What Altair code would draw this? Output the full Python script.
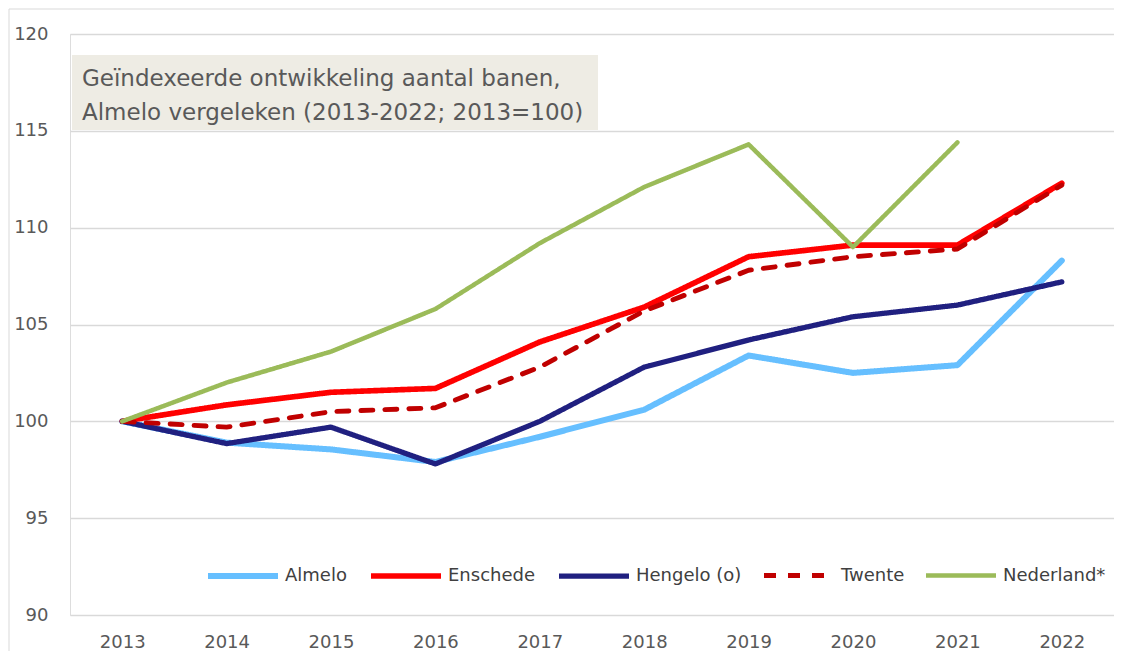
import altair as alt
import pandas as pd

years = [2013, 2014, 2015, 2016, 2017, 2018, 2019, 2020, 2021, 2022]
series_names = ["Almelo", "Enschede", "Hengelo (o)", "Twente", "Nederland*"]
almelo = [100, 98.9, 98.55, 97.9, 99.2, 100.6, 103.4, 102.5, 102.9, 108.3]
enschede = [100, 100.85, 101.5, 101.7, 104.1, 105.9, 108.5, 109.1, 109.1, 112.3]
hengelo = [100, 98.85, 99.7, 97.8, 100.0, 102.8, 104.2, 105.4, 106.0, 107.2]
twente = [100, 99.7, 100.5, 100.7, 102.8, 105.7, 107.8, 108.5, 108.9, 112.2]
nederland = [100, 102.0, 103.6, 105.8, 109.2, 112.1, 114.3, 109.0, 114.4, None]
colors = ["#66BFFF", "#FF0000", "#202080", "#C00000", "#9BBB59"]
widths = [6, 4.5, 4, 5, 4]
dashes = [[1, 0], [1, 0], [1, 0], [12, 12], [1, 0]]
title_lines = ["Geïndexeerde ontwikkeling aantal banen,",
               "Almelo vergeleken (2013-2022; 2013=100)"]

rows = []
for name, vals in zip(series_names, [almelo, enschede, hengelo, twente, nederland]):
    for y, v in zip(years, vals):
        if v is not None:
            rows.append({"jaar": str(y), "serie": name, "waarde": v})
df = pd.DataFrame(rows)

FONT = "DejaVu Sans"


def make_legend():
    return alt.Legend(title=None, orient="none", legendX=135, legendY=504,
                      direction="horizontal", columns=5,
                      symbolType="stroke", symbolSize=4900,
                      symbolStrokeWidth=6,
                      labelFont=FONT, labelFontSize=18,
                      labelColor="#404040", labelOffset=4,
                      columnPadding=12, padding=0, gridAlign="none")


x_enc = alt.X("jaar:O", title=None,
              scale=alt.Scale(type="point", padding=0.5),
              axis=alt.Axis(labelAngle=0, labelFont=FONT, labelFontSize=18,
                            labelColor="#595959", ticks=False, domain=False,
                            grid=False, labelPadding=18))
y_enc = alt.Y("waarde:Q", title=None,
              scale=alt.Scale(domain=[90, 120], nice=False, zero=False),
              axis=alt.Axis(values=[90, 95, 100, 105, 110, 115, 120],
                            labelFont=FONT, labelFontSize=18, labelColor="#595959",
                            ticks=False, domain=False, grid=True,
                            gridColor="#D9D9D9", gridWidth=1.3, labelPadding=22))

lines = alt.Chart(df).mark_line(strokeCap="round", strokeJoin="round").encode(
    x=x_enc,
    y=y_enc,
    color=alt.Color("serie:N", scale=alt.Scale(domain=series_names, range=colors),
                    legend=make_legend()),
    strokeDash=alt.StrokeDash("serie:N", scale=alt.Scale(domain=series_names, range=dashes),
                              legend=make_legend()),
    strokeWidth=alt.StrokeWidth("serie:N", scale=alt.Scale(domain=series_names, range=widths),
                                legend=None),
)

box = alt.Chart().mark_rect(fill="#EEECE4").encode(
    x=alt.value(2), x2=alt.value(528), y=alt.value(21), y2=alt.value(96))

title_text = alt.Chart().mark_text(align="left", baseline="middle", font=FONT,
                                   fontSize=23, color="#595959", lineHeight=34).encode(
    x=alt.value(12), y=alt.value(45), text=alt.value(title_lines))

border_top = alt.Chart().mark_rule(color="#D9D9D9", strokeWidth=1).encode(
    x=alt.value(-61), x2=alt.value(1100), y=alt.value(-25))
border_left = alt.Chart().mark_rule(color="#D9D9D9", strokeWidth=1).encode(
    x=alt.value(-61), y=alt.value(-25), y2=alt.value(700))

chart = alt.layer(border_top, border_left, lines, box, title_text).properties(
    width=1044, height=581,
    padding={"left": 62, "top": 26, "right": 0, "bottom": 36},
    autosize=alt.AutoSizeParams(type="none"),
).configure_view(stroke=None, strokeWidth=0).configure_axis(
    domain=False, ticks=False
).configure(background="white")

chart.save("out.html", embed_options={"renderer": "svg", "actions": False})
